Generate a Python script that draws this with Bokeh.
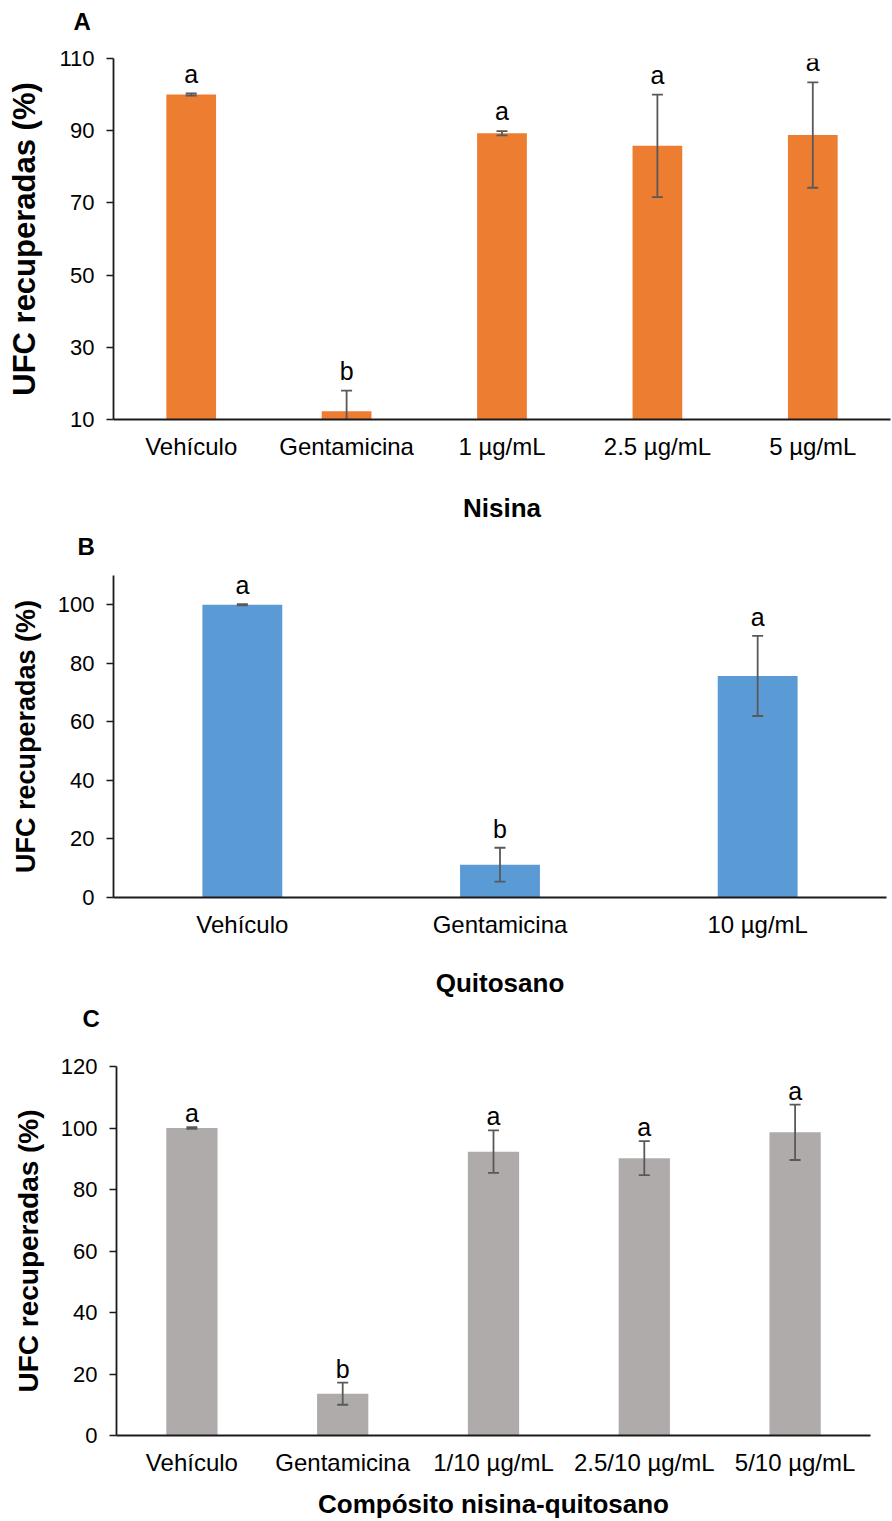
from bokeh.plotting import figure
from bokeh.models import Range1d, FactorRange, FixedTicker, ColumnDataSource, Title
from bokeh.layouts import column, row
from bokeh.core.properties import value
from bokeh.embed import file_html
from bokeh.resources import INLINE
import numpy as np

# Panel A: nisin
cats_a = ["Vehículo", "Gentamicina", "1 µg/mL", "2.5 µg/mL", "5 µg/mL"]
mean_a = [100.0, 12.3, 89.3, 85.8, 88.8]
err_a = [0.3, 5.7, 0.6, 14.2, 14.6]
sig_a = ["a", "b", "a", "a", "a"]
ticks_a = [10, 30, 50, 70, 90, 110]

# Panel B: chitosan
cats_b = ["Vehículo", "Gentamicina", "10 µg/mL"]
mean_b = [100.0, 11.2, 75.7]
err_b = [0.2, 5.8, 13.7]
sig_b = ["a", "b", "a"]
ticks_b = [0, 20, 40, 60, 80, 100]

# Panel C: nisin-chitosan composite
cats_c = ["Vehículo", "Gentamicina", "1/10 µg/mL", "2.5/10 µg/mL", "5/10 µg/mL"]
mean_c = [100.0, 13.6, 92.3, 90.2, 98.6]
err_c = [0.3, 3.6, 6.9, 5.5, 9.0]
sig_c = ["a", "b", "a", "a", "a"]
ticks_c = [0, 20, 40, 60, 80, 100, 120]

FONT = "Liberation Sans"
ERR_COLOR = "#595959"


def panel(letter, cats, means, errs, sig, color, ticks, ymin, ymax, xtitle,
          height, border, bar_w, ylab_size, letter_offset, letter_gap,
          sig_gap_px, label_standoff, title_standoff):
    left, right, top, bottom = border
    p = figure(x_range=FactorRange(*cats), y_range=Range1d(ymin, ymax),
               width=892, height=height, output_backend="svg",
               toolbar_location=None, min_border_left=left,
               min_border_right=right, min_border_top=top,
               min_border_bottom=bottom, title=None)
    p.outline_line_color = None
    p.xgrid.visible = False
    p.ygrid.visible = False
    p.background_fill_color = "white"
    p.border_fill_color = "white"

    # panel letter above the top-left corner, lifted by an empty spacer title
    p.add_layout(Title(text=" ", text_font_size="1px", standoff=letter_gap),
                 "above")
    p.add_layout(Title(text=letter, align="left", offset=letter_offset,
                       standoff=0, text_font=FONT, text_font_style="bold",
                       text_font_size="24px", text_color="black"), "above")

    means = np.array(means)
    errs = np.array(errs)
    frame_px = height - top - bottom
    lab_y = means + errs + sig_gap_px * (ymax - ymin) / frame_px
    src = ColumnDataSource(dict(x=cats, top=means, lo=means - errs,
                                hi=means + errs, sig=sig, ly=lab_y))
    p.vbar(x="x", top="top", bottom=ymin, width=bar_w, source=src,
           fill_color=color, line_color=None)
    p.segment(x0="x", y0="lo", x1="x", y1="hi", source=src,
              line_color=ERR_COLOR, line_width=1.8)
    p.scatter(x="x", y="hi", source=src, marker="dash", size=11,
              line_color=ERR_COLOR, line_width=1.8)
    p.scatter(x="x", y="lo", source=src, marker="dash", size=11,
              line_color=ERR_COLOR, line_width=1.8)
    p.text(x="x", y="ly", text="sig", source=src, text_align="center",
           text_baseline="alphabetic", text_font=value(FONT),
           text_font_size="25px", text_color="black")

    yax = p.yaxis[0]
    yax.ticker = FixedTicker(ticks=ticks)
    yax.axis_label = "UFC recuperadas (%)"
    yax.axis_label_text_font = FONT
    yax.axis_label_text_font_style = "bold"
    yax.axis_label_text_font_size = ylab_size
    yax.axis_label_text_color = "black"
    yax.axis_label_standoff = 14
    yax.major_label_text_font = FONT
    yax.major_label_text_font_size = "22px"
    yax.major_label_text_color = "black"
    yax.major_label_standoff = 12
    yax.major_tick_in = 0
    yax.major_tick_out = 7
    yax.minor_tick_out = 0
    yax.minor_tick_in = 0
    yax.axis_line_width = 1.8
    yax.major_tick_line_width = 1.6
    yax.axis_line_color = "#1a1a1a"
    yax.major_tick_line_color = "#1a1a1a"

    xax = p.xaxis[0]
    xax.axis_label = xtitle
    xax.axis_label_text_font = FONT
    xax.axis_label_text_font_style = "bold"
    xax.axis_label_text_font_size = "26px"
    xax.axis_label_text_color = "black"
    xax.axis_label_standoff = title_standoff
    xax.major_label_text_font = FONT
    xax.major_label_text_font_size = "24px"
    xax.major_label_text_color = "black"
    xax.major_label_standoff = label_standoff
    xax.major_tick_in = 0
    xax.major_tick_out = 0
    xax.axis_line_width = 1.8
    xax.axis_line_color = "#1a1a1a"
    xax.major_label_orientation = "horizontal"
    return p


pa = panel("A", cats_a, mean_a, err_a, sig_a, "#ED7D31", ticks_a, 10, 110,
           "Nisina", 525, (113, 2, 58, 106), 0.32, "31px", -40, 21, 20, 13, 30)
pb = panel("B", cats_b, mean_b, err_b, sig_b, "#5B9BD5", ticks_b, 0, 110,
           "Quitosano", 475, (113, 6, 50, 102), 0.31, "27px", -36, 13, 19,
           13, 27)
pc = panel("C", cats_c, mean_c, err_c, sig_c, "#AFABAB", ticks_c, 0, 120,
           "Compósito nisina-quitosano", 521, (116, 22, 66, 85), 0.34, "28px",
           -34, 32, 14, 13, 10)

layout = column(row(pa), row(pb), row(pc), spacing=0)
open("out.html", "w").write(file_html(layout, INLINE))
